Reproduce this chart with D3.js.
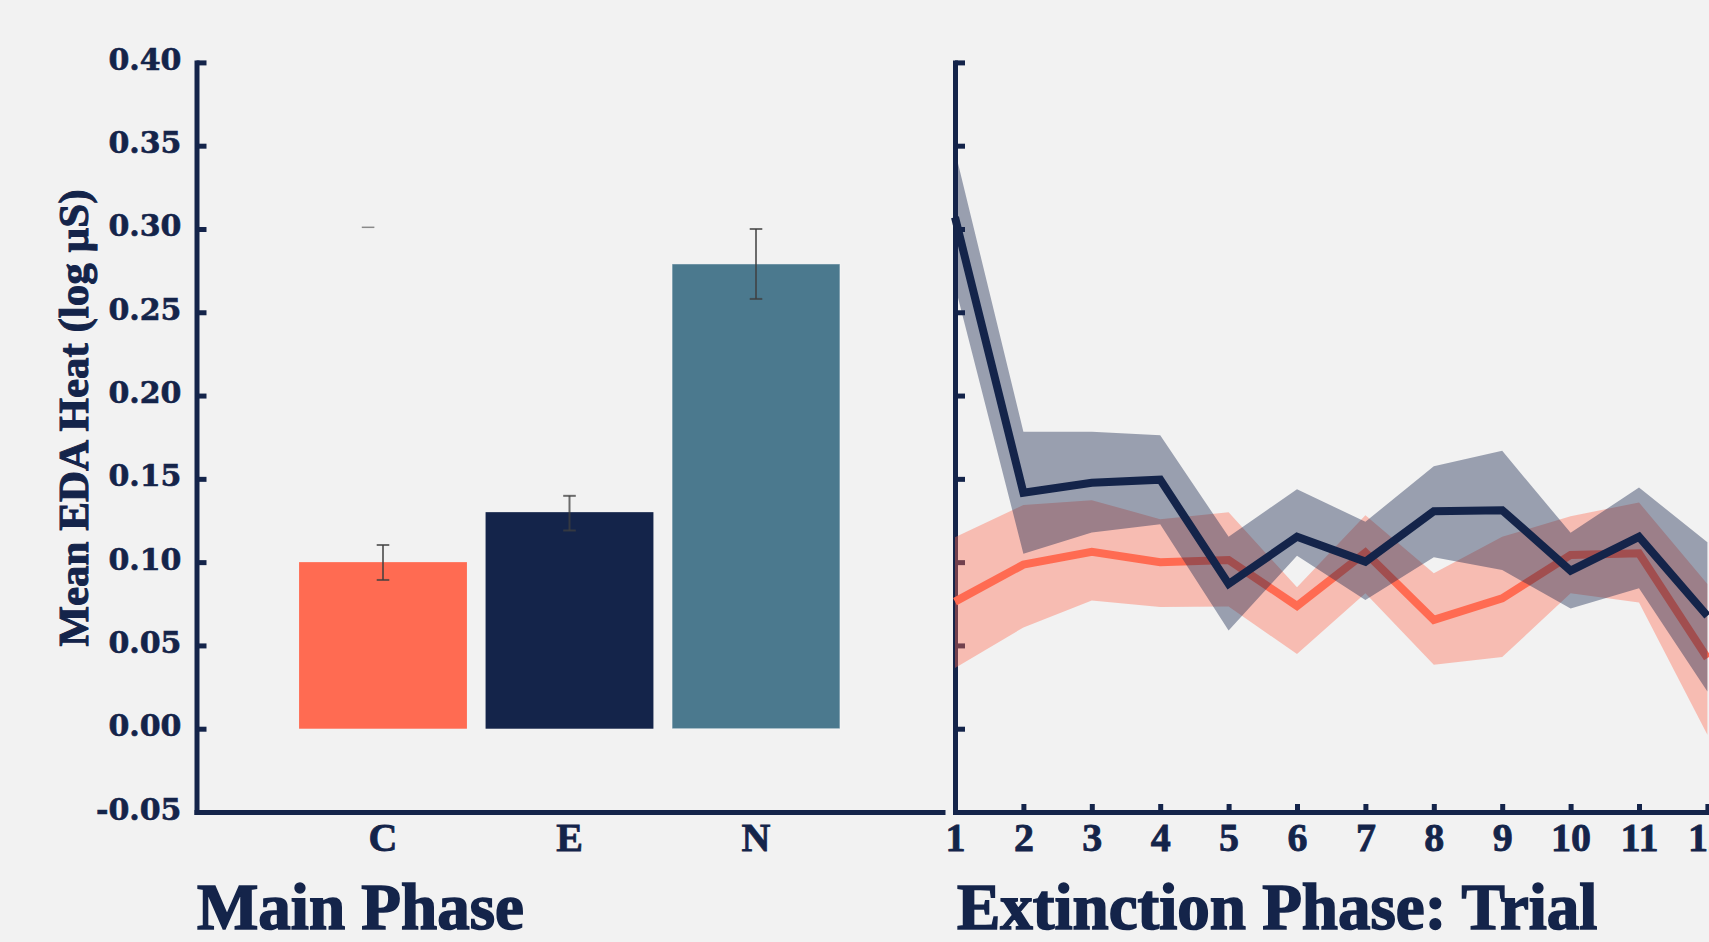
<!DOCTYPE html>
<html>
<head>
<meta charset="utf-8">
<script src="https://cdn.jsdelivr.net/npm/d3@7"></script>
<style>
  html, body { margin: 0; padding: 0; background: #F2F2F2; overflow: hidden; }
  svg { display: block; }
</style>
</head>
<body>
<svg id="chart" width="1709" height="942"></svg>
<script>
// ---- Main phase: mean EDA heat response per condition ----
const categories = ["C", "E", "N"];
const barMeans   = [0.100, 0.130, 0.279];
const barLower   = [0.0893, 0.119, 0.258];
const barUpper   = [0.1103, 0.1398, 0.300];
const barColors  = ["#FF6B52", "#14244A", "#4B798E"];
// lone cap left over from the error-bar layer
const loneCapPos   = [-0.08];
const loneCapValue = [0.301];

// ---- Extinction phase: trial-by-trial means with confidence bands ----
const trials = [1, 2, 3, 4, 5, 6, 7, 8, 9, 10, 11, 12];
const eMean  = [0.307, 0.1417, 0.1477, 0.1495, 0.0869, 0.1152, 0.1003, 0.1306, 0.1312, 0.0949, 0.1152, 0.0677];
const eUpper = [0.3468, 0.1783, 0.1783, 0.1761, 0.1152, 0.1438, 0.1242, 0.1576, 0.1668, 0.1176, 0.1448, 0.1119];
const eLower = [0.2658, 0.1051, 0.1178, 0.1228, 0.0589, 0.1039, 0.0773, 0.1029, 0.0953, 0.0721, 0.0843, 0.0224];
const cMean  = [0.0763, 0.0985, 0.1062, 0.1000, 0.1013, 0.0737, 0.1057, 0.0653, 0.0783, 0.1043, 0.1053, 0.0424];
const cUpper = [0.1150, 0.1343, 0.1372, 0.1258, 0.1299, 0.0849, 0.1282, 0.0933, 0.1152, 0.1276, 0.1358, 0.0869];
const cLower = [0.0364, 0.0608, 0.0770, 0.0730, 0.0733, 0.0449, 0.0813, 0.0384, 0.0430, 0.0813, 0.0757, -0.0036];

const yTicks = [-0.05, 0.00, 0.05, 0.10, 0.15, 0.20, 0.25, 0.30, 0.35, 0.40];

const NAVY = "#14244A", CORAL = "#FF6B52";
const tickFont = "'DejaVu Serif', serif";
const headFont = "'Liberation Serif', 'Times New Roman', serif";

const svg = d3.select("#chart");

// shared vertical scale
const y = d3.scaleLinear().domain([-0.05, 0.40]).range([812, 62.4]);
// plain hyphen for negatives
const fmtY = v => d3.format(".2f")(v).replace("\u2212", "-");

// ---------- left panel ----------
const xLin = d3.scaleLinear().domain([-1, 3]).range([196.5, 942.5]);
const xBand = d3.scaleBand()
  .domain(categories)
  .range([xLin(-0.5), xLin(2.5)])
  .paddingInner(0.1)
  .paddingOuter(0.05);

const left = svg.append("g");

// y axis with inward ticks
const yAxisL = left.append("g")
  .attr("transform", `translate(${xLin(-1)},0)`)
  .call(d3.axisLeft(y).tickValues(yTicks).tickFormat(fmtY)
        .tickSize(-10).tickSizeOuter(0).tickPadding(15));

// bottom spine
const xAxisL = left.append("g")
  .attr("transform", `translate(0,${y(-0.05)})`)
  .call(d3.axisBottom(xLin).tickValues([]).tickSizeOuter(0));

// category labels
const xLabL = left.append("g")
  .attr("transform", `translate(0,${y(-0.05)})`)
  .call(d3.axisBottom(xBand).tickSize(0));
xLabL.select(".domain").remove();

// bars
const barData = categories.map((c, i) => ({c, m: barMeans[i], lo: barLower[i], hi: barUpper[i], col: barColors[i]}));
left.append("g").selectAll("rect").data(barData).join("rect")
  .attr("x", d => xBand(d.c))
  .attr("width", xBand.bandwidth())
  .attr("y", d => y(d.m))
  .attr("height", d => y(0) - y(d.m))
  .attr("fill", d => d.col)
  .attr("stroke", d => d.c === "N" ? "rgba(255,255,255,0.45)" : "none")
  .attr("stroke-width", 1);

// error bars
const eb = left.append("g").attr("stroke", "#3f3f3f").attr("stroke-opacity", 0.75).attr("stroke-width", 2);
const cx = d => xBand(d.c) + xBand.bandwidth() / 2;
eb.selectAll("line.v").data(barData).join("line").attr("class", "v")
  .attr("x1", cx).attr("x2", cx).attr("y1", d => y(d.lo)).attr("y2", d => y(d.hi));
eb.selectAll("line.t").data(barData).join("line").attr("class", "t")
  .attr("x1", d => cx(d) - 6.3).attr("x2", d => cx(d) + 6.3).attr("y1", d => y(d.hi)).attr("y2", d => y(d.hi));
eb.selectAll("line.b").data(barData).join("line").attr("class", "b")
  .attr("x1", d => cx(d) - 6.3).attr("x2", d => cx(d) + 6.3).attr("y1", d => y(d.lo)).attr("y2", d => y(d.lo));
left.append("g").selectAll("line").data(loneCapPos.map((p, i) => ({p, v: loneCapValue[i]}))).join("line")
  .attr("x1", d => xLin(d.p) - 6.3).attr("x2", d => xLin(d.p) + 6.3)
  .attr("y1", d => y(d.v)).attr("y2", d => y(d.v))
  .attr("stroke", "#8a8a8a").attr("stroke-width", 1.5);

// ---------- right panel ----------
const xT = d3.scaleLinear().domain([1, 12]).range([955, 1707.4]);
const right = svg.append("g");

const yAxisR = right.append("g")
  .attr("transform", `translate(${xT(1)},0)`)
  .call(d3.axisLeft(y).tickValues(yTicks).tickFormat("").tickSize(-10).tickSizeOuter(0));

const xAxisR = right.append("g")
  .attr("transform", `translate(0,${y(-0.05)})`)
  .call(d3.axisBottom(xT).tickValues(trials).tickFormat(d3.format("d"))
        .tickSize(-8).tickSizeOuter(0));
xAxisR.selectAll(".tick").filter(d => d === 1).select("line").remove();

const series = trials.map((t, i) => ({t, em: eMean[i], eu: eUpper[i], el: eLower[i], cm: cMean[i], cu: cUpper[i], cl: cLower[i]}));

const areaC = d3.area().x(d => xT(d.t)).y0(d => y(d.cl)).y1(d => y(d.cu));
const areaE = d3.area().x(d => xT(d.t)).y0(d => y(d.el)).y1(d => y(d.eu));
const lineC = d3.line().x(d => xT(d.t)).y(d => y(d.cm));
const lineE = d3.line().x(d => xT(d.t)).y(d => y(d.em));

right.append("path").datum(series).attr("d", areaC).attr("fill", CORAL).attr("fill-opacity", 0.4);
right.append("path").datum(series).attr("d", lineC).attr("fill", "none").attr("stroke", CORAL).attr("stroke-width", 8);
right.append("path").datum(series).attr("d", areaE).attr("fill", NAVY).attr("fill-opacity", 0.4);
right.append("path").datum(series).attr("d", lineE).attr("fill", "none").attr("stroke", NAVY).attr("stroke-width", 8);

// ---------- axis styling ----------
[yAxisL, xAxisL, yAxisR, xAxisR].forEach(g => {
  g.select(".domain").attr("stroke", NAVY).attr("stroke-width", 5).attr("stroke-linecap", "square");
  g.selectAll(".tick line").attr("stroke", NAVY).attr("stroke-width", 5);
});

yAxisL.selectAll(".tick text")
  .attr("font-family", tickFont).attr("font-weight", "bold").attr("font-size", 30)
  .attr("fill", NAVY).attr("dy", null).attr("y", 7).attr("dominant-baseline", "alphabetic")
  .attr("stroke", NAVY).attr("stroke-width", 0.6);

[xLabL, xAxisR].forEach(g => {
  g.selectAll(".tick text")
    .attr("font-family", headFont).attr("font-weight", "bold").attr("font-size", 40)
    .attr("fill", NAVY).attr("dy", null).attr("y", 39)
    .attr("stroke", NAVY).attr("stroke-width", 0.8);
});

// ---------- titles ----------
svg.append("text")
  .attr("transform", "translate(88,418) rotate(-90)")
  .attr("text-anchor", "middle")
  .attr("font-family", headFont).attr("font-weight", "bold").attr("font-size", 43)
  .attr("fill", NAVY).attr("stroke", NAVY).attr("stroke-width", 1)
  .text("Mean EDA Heat (log µS)");

svg.append("text")
  .attr("x", 197).attr("y", 929)
  .attr("font-family", headFont).attr("font-weight", "bold").attr("font-size", 65)
  .attr("fill", NAVY).attr("stroke", NAVY).attr("stroke-width", 1.6)
  .text("Main Phase");

svg.append("text")
  .attr("x", 957).attr("y", 929)
  .attr("font-family", headFont).attr("font-weight", "bold").attr("font-size", 65)
  .attr("fill", NAVY).attr("stroke", NAVY).attr("stroke-width", 1.6)
  .text("Extinction Phase: Trial");
</script>
</body>
</html>
